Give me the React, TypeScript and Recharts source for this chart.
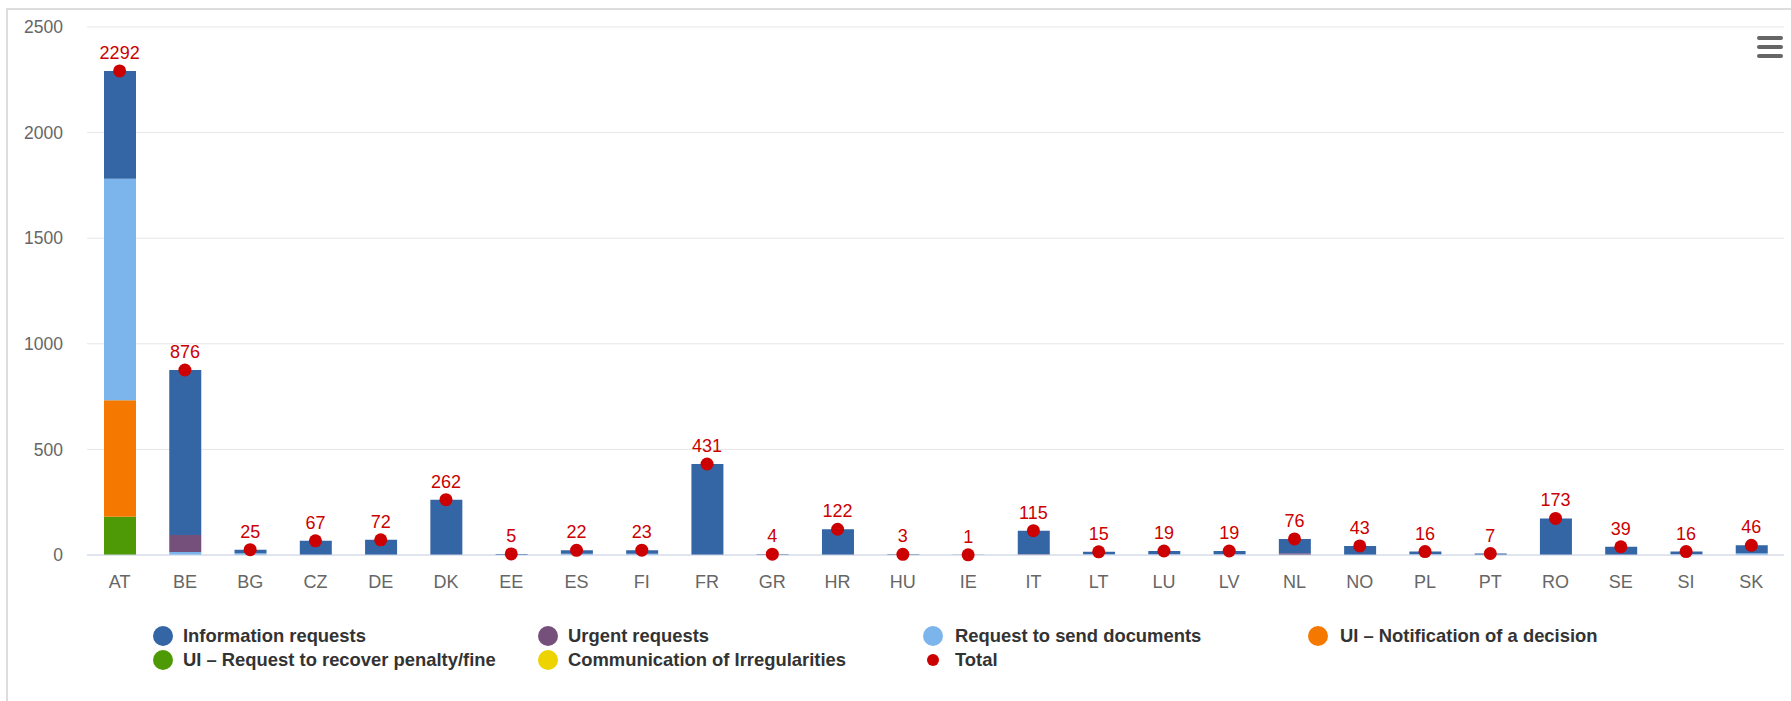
import React from "react";
import {
  ComposedChart,
  Bar,
  Line,
  XAxis,
  YAxis,
  CartesianGrid,
  LabelList,
  Legend,
} from "recharts";

// Country codes along the category axis
const countries = [
  "AT", "BE", "BG", "CZ", "DE", "DK", "EE", "ES", "FI", "FR", "GR", "HR", "HU",
  "IE", "IT", "LT", "LU", "LV", "NL", "NO", "PL", "PT", "RO", "SE", "SI", "SK",
];

// Stacked request types per country
const informationRequests = [
  511, 781, 17, 67, 72, 262, 5, 16, 17, 431, 4, 122, 3,
  1, 111, 11, 16, 16, 68, 43, 12, 7, 173, 39, 12, 38,
];
const urgentRequests = [
  0, 81, 0, 0, 0, 0, 0, 0, 0, 0, 0, 0, 0,
  0, 4, 0, 0, 0, 8, 0, 0, 0, 0, 0, 0, 0,
];
const requestToSendDocuments = [
  1048, 14, 8, 0, 0, 0, 0, 6, 6, 0, 0, 0, 0,
  0, 0, 4, 3, 3, 0, 0, 4, 0, 0, 0, 4, 8,
];
const notificationOfDecision = [
  552, 0, 0, 0, 0, 0, 0, 0, 0, 0, 0, 0, 0,
  0, 0, 0, 0, 0, 0, 0, 0, 0, 0, 0, 0, 0,
];
const recoverPenalty = [
  181, 0, 0, 0, 0, 0, 0, 0, 0, 0, 0, 0, 0,
  0, 0, 0, 0, 0, 0, 0, 0, 0, 0, 0, 0, 0,
];
const irregularities = [
  0, 0, 0, 0, 0, 0, 0, 0, 0, 0, 0, 0, 0,
  0, 0, 0, 0, 0, 0, 0, 0, 0, 0, 0, 0, 0,
];
const totals = [
  2292, 876, 25, 67, 72, 262, 5, 22, 23, 431, 4, 122, 3,
  1, 115, 15, 19, 19, 76, 43, 16, 7, 173, 39, 16, 46,
];

const yTicks = [0, 500, 1000, 1500, 2000, 2500];

const data = countries.map((c, i) => ({
  country: c,
  info: informationRequests[i],
  urgent: urgentRequests[i],
  docs: requestToSendDocuments[i],
  notification: notificationOfDecision[i],
  recover: recoverPenalty[i],
  irregularities: irregularities[i],
  total: totals[i],
}));

const FONT = '"Liberation Sans", Arial, Helvetica, sans-serif';

const legendItems = [
  { name: "Information requests", color: "#3465a4", r: 10 },
  { name: "Urgent requests", color: "#75507b", r: 10 },
  { name: "Request to send documents", color: "#7cb5ec", r: 10 },
  { name: "UI \u2013 Notification of a decision", color: "#f57900", r: 10 },
  { name: "UI \u2013 Request to recover penalty/fine", color: "#4e9a06", r: 10 },
  { name: "Communication of Irregularities", color: "#edd400", r: 10 },
  { name: "Total", color: "#cc0000", r: 6 },
];

const LegendContent = () => (
  <svg width={1600} height={64} style={{ display: "block" }}>
    {legendItems.map((it, i) => {
      const col = i % 4;
      const row = Math.floor(i / 4);
      const cx = 163 + col * 385;
      const cy = 14 + row * 24;
      return (
        <g key={it.name}>
          <circle cx={cx} cy={cy} r={it.r} fill={it.color} />
          <text
            x={183 + col * 385 + (col >= 2 ? 2 : 0)}
            y={cy}
            dy="0.35em"
            fontFamily={FONT}
            fontWeight="bold"
            fontSize={18.4}
            fill="#333333"
          >
            {it.name}
          </text>
        </g>
      );
    })}
  </svg>
);

const MenuIcon = () => (
  <svg
    width={30}
    height={30}
    style={{ position: "absolute", left: 1755, top: 33 }}
  >
    {[5, 14, 23].map((y) => (
      <rect key={y} x={2} y={y - 2} width={26} height={4} rx={2} fill="#666666" />
    ))}
  </svg>
);

export default function App() {
  return (
    <div
      style={{
        position: "absolute",
        left: 0,
        top: 0,
        width: 1791,
        height: 701,
        overflow: "hidden",
        background: "#ffffff",
      }}
    >
      <div
        style={{
          position: "absolute",
          left: 6,
          top: 8,
          width: 1800,
          height: 720,
          borderLeft: "2px solid #dddddd",
          borderTop: "2px solid #dddddd",
        }}
      />
      <div style={{ position: "absolute", left: 0, top: 0 }}>
        <ComposedChart
          width={1791}
          height={701}
          data={data}
          margin={{ top: 27, right: 7, bottom: 116, left: 0 }}
        >
          <CartesianGrid vertical={false} stroke="#e6e6e6" />
          <XAxis
            dataKey="country"
            interval={0}
            tickLine={false}
            axisLine={{ stroke: "#ccd6eb", strokeWidth: 1 }}
            tick={{ fill: "#666666", fontSize: 18, fontFamily: FONT }}
            tickMargin={14}
            height={30}
          />
          <YAxis
            width={87}
            domain={[0, 2500]}
            ticks={yTicks}
            axisLine={false}
            tickLine={false}
            tickMargin={18}
            tick={{ fill: "#666666", fontSize: 17.5, fontFamily: FONT }}
          />
          <Legend
            layout="horizontal"
            verticalAlign="middle"
            align="center"
            content={<LegendContent />}
            wrapperStyle={{ position: "absolute", left: 0, top: 622, width: 1600 }}
          />
          <Bar dataKey="irregularities" stackId="s" fill="#edd400" barSize={32} isAnimationActive={false} />
          <Bar dataKey="recover" stackId="s" fill="#4e9a06" barSize={32} isAnimationActive={false} />
          <Bar dataKey="notification" stackId="s" fill="#f57900" barSize={32} isAnimationActive={false} />
          <Bar dataKey="docs" stackId="s" fill="#7cb5ec" barSize={32} isAnimationActive={false} />
          <Bar dataKey="urgent" stackId="s" fill="#75507b" barSize={32} isAnimationActive={false} />
          <Bar dataKey="info" stackId="s" fill="#3465a4" barSize={32} isAnimationActive={false} />
          <Line
            dataKey="total"
            stroke="none"
            strokeWidth={0}
            dot={{ r: 6.5, fill: "#cc0000", stroke: "none" }}
            activeDot={false}
            isAnimationActive={false}
          >
            <LabelList
              dataKey="total"
              position="top"
              offset={12}
              fill="#cc0000"
              fontSize={18}
              fontFamily={FONT}
            />
          </Line>
        </ComposedChart>
      </div>
      <MenuIcon />
    </div>
  );
}
